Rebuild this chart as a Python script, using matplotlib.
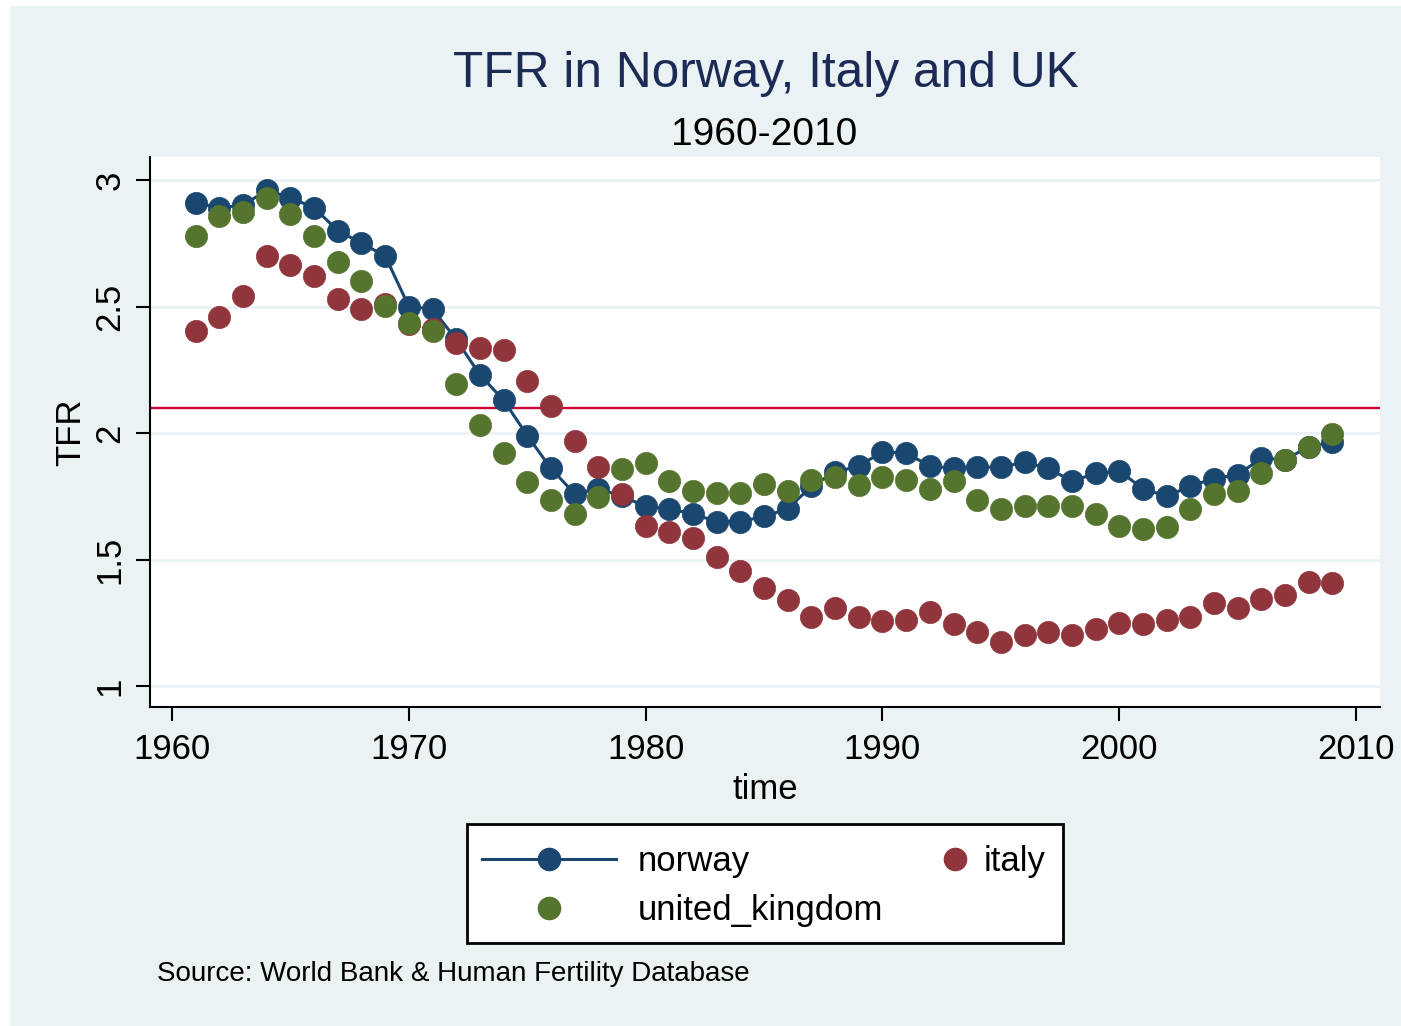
import matplotlib
matplotlib.use("Agg")
import matplotlib.pyplot as plt
from matplotlib.lines import Line2D
from matplotlib.patches import Rectangle

plt.rcParams['font.family'] = ['Liberation Sans', 'DejaVu Sans']

years = list(range(1961, 2010))
norway = [2.91, 2.89, 2.90, 2.96, 2.93, 2.89, 2.80, 2.75, 2.70, 2.50,
          2.49, 2.37, 2.23, 2.13, 1.99, 1.86, 1.76, 1.78, 1.75, 1.71,
          1.70, 1.68, 1.65, 1.65, 1.67, 1.70, 1.79, 1.845, 1.87, 1.925,
          1.92, 1.87, 1.86, 1.865, 1.865, 1.885, 1.86, 1.81, 1.84, 1.85,
          1.78, 1.75, 1.79, 1.82, 1.835, 1.90, 1.895, 1.945, 1.965]
italy = [2.405, 2.46, 2.54, 2.70, 2.665, 2.62, 2.53, 2.49, 2.51, 2.43,
         2.41, 2.355, 2.335, 2.33, 2.205, 2.105, 1.97, 1.865, 1.757, 1.632,
         1.61, 1.585, 1.51, 1.455, 1.386, 1.34, 1.274, 1.31, 1.274, 1.257,
         1.26, 1.293, 1.244, 1.212, 1.175, 1.20, 1.212, 1.20, 1.224, 1.25,
         1.244, 1.26, 1.274, 1.33, 1.31, 1.343, 1.36, 1.412, 1.406]
united_kingdom = [2.78, 2.858, 2.875, 2.93, 2.864, 2.78, 2.677, 2.60, 2.503, 2.433,
                  2.405, 2.194, 2.03, 1.92, 1.808, 1.735, 1.68, 1.748, 1.858, 1.883,
                  1.81, 1.772, 1.764, 1.764, 1.797, 1.772, 1.814, 1.827, 1.795, 1.827,
                  1.814, 1.78, 1.81, 1.735, 1.70, 1.71, 1.71, 1.71, 1.68, 1.634,
                  1.62, 1.627, 1.70, 1.757, 1.77, 1.84, 1.893, 1.946, 1.995]
replacement_level = 2.1
x_ticks = [1960, 1970, 1980, 1990, 2000, 2010]
y_ticks = [1, 1.5, 2, 2.5, 3]
y_tick_labels = ["1", "1.5", "2", "2.5", "3"]

W, H = 1401, 1026
fig = plt.figure(figsize=(W / 100, H / 100), dpi=100)
fig.patch.set_facecolor('white')
bg = '#eaf2f3'
fig.patches.append(Rectangle((10 / W, 0), 1 - 10 / W, 1 - 6 / H,
                             transform=fig.transFigure, facecolor=bg,
                             edgecolor='none', zorder=-10))

ax = fig.add_axes([150 / W, 1 - 707 / H, 1230 / W, 550 / H])
ax.set_facecolor('white')

c_nor = '#1a476f'
c_ita = '#90353b'
c_uk = '#55752f'
ms = 16

ax.set_xlim(1959.07, 2011.01)
ax.set_ylim(0.917, 3.091)

for yv in y_ticks:
    ax.axhline(yv, color=bg, lw=2.0, zorder=1)

ax.axhline(replacement_level, color='#cc0033', lw=1.7, zorder=2)

ax.plot(years, norway, color=c_nor, lw=2.2, marker='o', ms=ms,
        mfc=c_nor, mec=c_nor, mew=0.5, zorder=3)
ax.plot(years, italy, ls='none', marker='o', ms=ms,
        mfc=c_ita, mec=c_ita, mew=0.5, zorder=4)
ax.plot(years, united_kingdom, ls='none', marker='o', ms=ms,
        mfc=c_uk, mec=c_uk, mew=0.5, zorder=5)

for s in ['top', 'right']:
    ax.spines[s].set_visible(False)
for s in ['left', 'bottom']:
    ax.spines[s].set_linewidth(1.5)
    ax.spines[s].set_color('black')

ax.set_xticks(x_ticks)
ax.set_xticklabels([str(v) for v in x_ticks])
ax.set_yticks(y_ticks)
ax.set_yticklabels(y_tick_labels)
ax.tick_params(axis='both', length=10, width=1.5, color='black',
               labelsize=25, labelcolor='black')
ax.tick_params(axis='x', pad=9)
ax.tick_params(axis='y', pad=7)
for lab in ax.get_yticklabels():
    lab.set_rotation(90)
    lab.set_va('center')
    lab.set_ha('right')

ax.set_xlabel('time', fontsize=25, labelpad=5)

fig.text(71 / W, 1 - 432 / H, 'TFR', rotation=90, fontsize=25,
         ha='center', va='center')

fig.text(766 / W, 1 - 87 / H, 'TFR in Norway, Italy and UK', fontsize=35.7,
         color='#1c2b55', ha='center', va='baseline')
fig.text(764 / W, 1 - 145 / H, '1960-2010', fontsize=28, color='black',
         ha='center', va='baseline')

# legend box
fig.patches.append(Rectangle((467 / W, 1 - 943 / H), 596 / W, 119 / H,
                             transform=fig.transFigure, facecolor='white',
                             edgecolor='black', lw=2.0, zorder=5))

h_nor = Line2D([], [], color=c_nor, lw=2.2, marker='o', ms=ms, mfc=c_nor, mec=c_nor)
h_uk = Line2D([], [], ls='none', marker='o', ms=ms, mfc=c_uk, mec=c_uk)
h_ita = Line2D([], [], ls='none', marker='o', ms=ms, mfc=c_ita, mec=c_ita)

leg1 = fig.legend([h_nor, h_uk], ['norway', 'united_kingdom'],
                  loc='upper left', bbox_to_anchor=(482 / W, 1 - 845 / H),
                  frameon=False, fontsize=25, handlelength=3.85,
                  handletextpad=0.63, labelspacing=0.46, borderpad=0,
                  borderaxespad=0)
leg1.set_zorder(6)
leg2 = fig.legend([h_ita], ['italy'],
                  loc='upper left', bbox_to_anchor=(938 / W, 1 - 845 / H),
                  frameon=False, fontsize=25, handlelength=1.0,
                  handletextpad=0.3, borderpad=0, borderaxespad=0)
leg2.set_zorder(6)

fig.text(157 / W, 1 - 981 / H, 'Source: World Bank & Human Fertility Database',
         fontsize=20, color='black', ha='left', va='baseline')

fig.savefig('out.png', dpi=100, facecolor=fig.get_facecolor())
